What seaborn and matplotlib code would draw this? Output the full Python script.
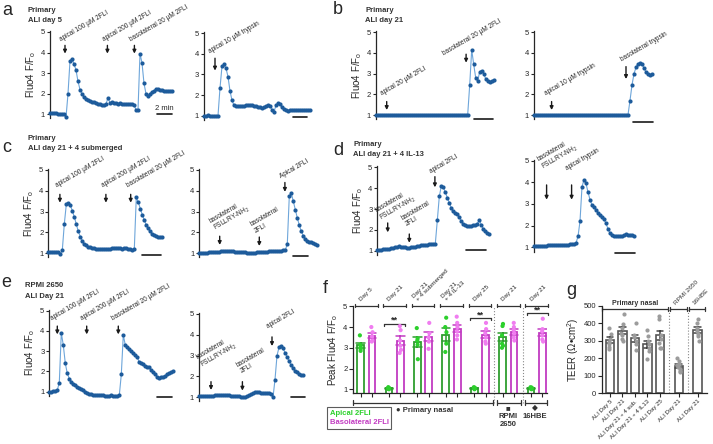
import numpy as np
import pandas as pd
import matplotlib
matplotlib.use('Agg')
import matplotlib.pyplot as plt
from matplotlib.lines import Line2D
import seaborn as sns

W, H = 713, 444

# ---- calcium traces (Fluo4 F/Fo), one reading per sample ----
A_LEFT = [1.05, 1.05, 1.07, 1.05, 1.03, 1.03, 1.02, 1.0, 0.85, 2.0,
          3.6, 3.7, 3.45, 3.15, 2.6, 2.2, 2.0, 1.85, 1.75, 1.7,
          1.65, 1.62, 1.6, 1.55, 1.52, 1.5, 1.47, 1.45, 1.5, 1.8,
          1.55, 1.58, 1.55, 1.55, 1.52, 1.55, 1.52, 1.5, 1.5, 1.5,
          1.5, 1.5, 1.45, 1.22, 1.2, 3.95, 3.5, 2.5, 2.0, 1.9,
          2.0, 2.1, 2.15, 2.25, 2.25, 2.2, 2.2, 2.15, 2.15, 2.12,
          2.15, 2.15]
A_RIGHT = [1.0, 1.0, 1.01, 1.0, 1.0, 0.99, 1.0, 1.0, 2.35, 3.4,
           3.5, 3.3, 2.9, 2.2, 1.75, 1.5, 1.45, 1.45, 1.45, 1.45,
           1.48, 1.5, 1.5, 1.5, 1.5, 1.48, 1.45, 1.42, 1.4, 1.38,
           1.4, 1.45, 1.5, 1.45, 1.3, 1.2, 1.5, 1.6, 1.55, 1.42,
           1.32, 1.28, 1.25, 1.28, 1.3, 1.28, 1.3, 1.28, 1.27, 1.28,
           1.27, 1.28, 1.27, 1.27]
B_LEFT = [1.0, 1.0, 1.01, 1.0, 1.0, 1.01, 1.0, 1.01, 1.02, 1.01,
          1.0, 1.01, 1.01, 1.0, 1.01, 1.01, 1.0, 1.0, 1.01, 1.01,
          1.0, 1.0, 1.01, 1.0, 1.01, 1.01, 1.0, 1.0, 1.01, 1.0,
          1.0, 1.01, 1.0, 1.01, 1.0, 1.0, 1.01, 1.0, 1.0, 1.01,
          1.0, 1.01, 1.0, 1.01, 1.02, 1.02, 1.02, 2.45, 4.15, 3.45,
          2.8, 2.65, 3.1, 3.15, 3.0, 2.75, 2.65, 2.62, 2.65, 2.7]
B_RIGHT = [1.0, 1.0, 1.0, 1.01, 1.0, 1.0, 1.01, 1.0, 1.0, 1.0,
           1.01, 1.0, 1.0, 1.0, 1.01, 1.0, 1.0, 1.0, 1.01, 1.0,
           1.0, 1.0, 1.01, 1.0, 1.0, 1.0, 1.0, 1.01, 1.0, 1.0,
           1.0, 1.01, 1.0, 1.0, 1.0, 1.0, 1.01, 1.0, 1.0, 1.0,
           1.0, 1.01, 1.0, 1.0, 1.0, 1.0, 1.0, 1.01, 1.7, 2.45,
           3.0, 3.3, 3.48, 3.52, 3.45, 3.28, 3.08, 2.98, 2.95, 3.0]
C_LEFT = [1.05, 1.05, 1.05, 1.07, 1.08, 1.05, 0.95, 1.15, 2.4, 3.35,
          3.4, 3.3, 3.05, 2.75, 2.4, 2.05, 1.8, 1.6, 1.45, 1.38,
          1.32, 1.28, 1.26, 1.25, 1.23, 1.22, 1.2, 1.2, 1.2, 1.21,
          1.22, 1.23, 1.24, 1.25, 1.26, 1.25, 1.24, 1.23, 1.25, 1.24,
          1.22, 1.2, 1.18, 1.2, 3.7, 3.45, 3.15, 2.85, 2.6, 2.35,
          2.2, 2.05, 1.95, 1.88, 1.82, 1.8, 1.77, 1.76]
C_RIGHT = [1.0, 1.0, 1.01, 1.02, 1.03, 1.04, 1.05, 1.06, 1.07, 1.08,
           1.08, 1.09, 1.1, 1.12, 1.12, 1.11, 1.1, 1.09, 1.08, 1.07,
           1.06, 1.05, 1.04, 1.04, 1.03, 1.03, 1.02, 1.03, 1.03, 1.04,
           1.04, 1.05, 1.06, 1.07, 1.08, 1.09, 1.1, 1.1, 1.11, 1.12,
           1.12, 1.13, 1.14, 1.15, 1.45, 3.75, 3.88, 3.5, 3.1, 2.7,
           2.35, 2.05, 1.85, 1.7, 1.6, 1.55, 1.52, 1.48, 1.45, 1.42]
D_LEFT = [1.05, 1.05, 1.05, 1.06, 1.07, 1.08, 1.1, 1.12, 1.14, 1.17,
          1.2, 1.22, 1.2, 1.18, 1.16, 1.15, 1.15, 1.16, 1.18, 1.2,
          1.22, 1.24, 1.26, 1.27, 1.28, 1.29, 1.3, 1.31, 1.32, 1.33,
          2.45, 3.6, 4.1, 4.05, 3.8, 3.55, 3.3, 3.05, 2.9, 2.8,
          2.75, 2.6, 2.42, 2.28, 2.22, 2.2, 2.2, 2.2, 2.22, 2.25,
          2.3, 2.45, 2.25, 2.05, 1.95, 1.85, 1.8]
D_RIGHT = [1.05, 1.06, 1.07, 1.08, 1.08, 1.08, 1.08, 1.09, 1.1, 1.1,
           1.1, 1.11, 1.12, 1.12, 1.12, 1.12, 1.12, 1.12, 1.13, 1.14,
           1.15, 1.2, 1.5, 2.2, 3.8, 4.12, 3.95, 3.55, 3.2, 2.95,
           2.85, 2.72, 2.6, 2.5, 2.42, 2.3, 2.1, 1.85, 1.65, 1.55,
           1.5, 1.5, 1.5, 1.52, 1.52, 1.55, 1.6, 1.58, 1.55, 1.55,
           1.53]
E_LEFT = [1.0, 1.0, 1.02, 1.05, 1.08, 1.45, 3.9, 3.3, 2.4, 1.9,
          1.65, 1.5, 1.4, 1.32, 1.25, 1.2, 1.15, 1.1, 1.0, 0.95,
          0.9, 0.88, 0.85, 0.85, 0.82, 0.85, 0.82, 0.83, 0.8, 0.78,
          0.8, 0.82, 0.78, 0.8, 0.8, 0.82, 1.85, 3.8, 3.3, 3.2,
          3.1, 3.0, 2.9, 2.8, 2.7, 2.45, 2.4, 2.38, 2.25, 2.2,
          2.2, 2.05, 1.95, 1.85, 1.75, 1.7, 1.72, 1.75, 1.8, 1.85,
          1.9, 1.95, 2.02]
E_RIGHT = [1.05, 1.05, 1.06, 1.07, 1.07, 1.08, 1.08, 1.08, 1.09, 1.09,
           1.1, 1.1, 1.1, 1.1, 1.1, 1.09, 1.08, 1.08, 1.07, 1.06,
           1.05, 1.03, 1.02, 1.03, 1.06, 1.1, 1.15, 1.2, 1.24, 1.25,
           1.24, 1.22, 1.21, 1.2, 1.2, 1.2, 1.18, 1.0, 1.85, 3.0,
           3.4, 3.45, 3.35, 3.15, 2.95, 2.75, 2.55, 2.4, 2.28, 2.2,
           2.12, 2.08, 2.05]

# arrows: (sample, tip, top, label, text offset in points)
NH2 = 'FSLLRY-NH$_2$'
A_LEFT_ARROWS = [(7.5, 3.95, 4.35, 'apical 100 µM 2FLI', (-2, 1.5)),
                 (28.7, 3.95, 4.35, 'apical 200 µM 2FLI', (-2, 1.5)),
                 (42.2, 3.95, 4.35, 'basolateral 20 µM 2FLI', (-2, 1.5))]
A_RIGHT_ARROWS = [(5.5, 3.19, 3.79, 'apical 10 µM trypsin', (-3, 2.4))]
B_LEFT_ARROWS = [(5.5, 1.24, 1.65, 'apical 20 µM 2FLI', (-2.4, 3.5)),
                 (45.2, 3.53, 3.94, 'basolateral 20 µM 2FLI', (-15, -2))]
B_RIGHT_ARROWS = [(8.8, 1.24, 1.65, 'apical 10 µM trypsin', (-3, 3.5)),
                  (46, 2.74, 3.34, 'basolateral trypsin', (-2.4, 2.4))]
C_LEFT_ARROWS = [(5.8, 3.43, 3.83, 'apical 100 µM 2FLI', (-1.5, 4)),
                 (28.8, 3.43, 3.83, 'apical 200 µM 2FLI', (-1.5, 4)),
                 (41.2, 3.43, 3.83, 'basolateral 20 µM 2FLI', (-1.5, 4))]
C_RIGHT_ARROWS = [(10.2, 1.4, 1.82, 'basolateral\n' + NH2, (-2, 2)),
                  (30, 1.35, 1.78, 'basolateral\n2FLI', (-2, 2)),
                  (42.8, 3.95, 4.4, 'Apical 2FLI', (-2, 2))]
D_LEFT_ARROWS = [(5.2, 1.88, 2.33, 'basolateral\n' + NH2, (-3.6, 0)),
                 (16, 1.38, 1.8, 'basolateral\n2FLI', (-1.2, 4.8)),
                 (28.8, 4.04, 4.55, 'apical 2FLI', (-2, 1.2))]
D_RIGHT_ARROWS = [(6.3, 3.2, 3.88, 'basolateral\n' + NH2, (-1, 9.5)),
                  (18.8, 3.2, 3.88, 'apical trypsin', (-2.6, 9.5))]
E_LEFT_ARROWS = [(4, 3.83, 4.24, 'apical 100 µM 2FLI', (-3, 3)),
                 (18.7, 3.83, 4.24, 'apical 200 µM 2FLI', (-3, 3)),
                 (34.5, 3.83, 4.24, 'basolateral 20 µM 2FLI', (-3, 3))]
E_RIGHT_ARROWS = [(6, 1.35, 1.75, 'basolateral\n' + NH2, (-5, 8.4)),
                  (21.7, 1.32, 1.75, 'basolateral\n2FLI', (0, 5)),
                  (36.5, 3.46, 3.9, 'apical 2FLI', (-2, 5))]

# ---- panel f: peak Fluo4 F/Fo per culture ----
F_KEYS = ['d5', 'd21', 'd21sub', 'd21il13', 'd25', 'rpmi', 'hbe']
F_LABELS = ['Day 5', 'Day 21', 'Day 21\n+ 4 submerged', 'Day 21\n+ 4 IL-13',
            'Day 25', 'Day 21', 'Day 21']
SIDES = ['Apical 2FLI', 'Basolateral 2FLI']
F_APICAL = [[3.6, 3.15, 3.05, 2.95, 2.85],
            [1.1, 1.06, 1.04, 1.0, 1.02, 1.08],
            [3.95, 3.45, 3.35, 3.15, 2.45],
            [4.45, 4.0, 3.75, 3.2, 2.8],
            [1.0, 1.05, 1.08, 1.02, 1.05, 1.1],
            [4.15, 4.05, 3.6, 3.2, 3.1, 3.0],
            [1.0, 1.05, 1.1, 1.02, 1.08]]
F_BASO = [[4.0, 3.75, 3.55, 3.35, 3.3],
          [4.05, 3.85, 3.35, 3.1, 2.9, 2.75],
          [4.2, 3.7, 3.5, 3.3, 2.95],
          [4.5, 4.2, 4.0, 3.8, 3.6, 3.4],
          [4.2, 3.9, 3.7, 3.5, 3.3, 3.2],
          [4.2, 4.0, 3.85, 3.7, 3.5, 3.35],
          [4.4, 3.9, 3.8, 3.6, 3.4, 3.3]]
F_SIG = {'d21': 4.15, 'd25': 4.42, 'hbe': 4.66}

# ---- panel g: TEER ----
G_KEYS = ['ALI Day 5', 'ALI Day 21', 'ALI Day 21 + 4 sub.', 'ALI Day 21 + 4 IL13',
          'ALI Day 25', 'ALI Day 21 ', 'ALI Day 21  ']
G_TEER = [[375, 340, 310, 295, 280, 265, 255],
          [450, 395, 370, 345, 330, 310, 300],
          [400, 330, 320, 300, 280, 250],
          [360, 325, 300, 280, 260, 240, 195],
          [440, 425, 330, 310, 285, 260, 260],
          [200, 185, 170, 160, 150, 140, 130, 120],
          [425, 400, 375, 355, 340, 325, 300]]
G_POS = [0, 1, 2, 3, 4, 5.5, 7]

DOT_C = '#1d5b9b'
LINE_C = '#6ea6da'
GREEN, GREEN_PT = '#2f9e2f', '#2cd02c'
MAGENTA, MAGENTA_PT = '#c23cc2', '#f07df0'

sns.set_theme(style='ticks')
plt.rcParams['font.family'] = ['Liberation Sans', 'DejaVu Sans']
plt.rcParams['mathtext.fontset'] = 'custom'
plt.rcParams['mathtext.rm'] = 'Liberation Sans'
plt.rcParams['mathtext.it'] = 'Liberation Sans:italic'
plt.rcParams['mathtext.bf'] = 'Liberation Sans:bold'
plt.rcParams['mathtext.default'] = 'rm'
plt.rcParams['axes.linewidth'] = 0.9

fig = plt.figure(figsize=(W / 100, H / 100), dpi=100)


def px_axes(left, top, right, bottom):
    return fig.add_axes([left / W, 1 - bottom / H, (right - left) / W, (bottom - top) / H])


def draw_trace(vals, left, y5, y1, bar, arrows, ylabel=False, bar_text=False):
    n = len(vals)
    dt = 2.0 / bar[1]          # scale bar = 2 min
    ppu = (y1 - y5) / 4
    ax = px_axes(left, y5 - 0.05 * ppu, left + 2 * (n - 1), y1 + 0.2 * ppu)
    df = pd.DataFrame({'t': np.arange(n) * dt, 'f': vals})
    sns.lineplot(data=df, x='t', y='f', ax=ax, color=LINE_C, linewidth=0.8,
                 errorbar=None, clip_on=False)
    sns.scatterplot(data=df, x='t', y='f', ax=ax, color=DOT_C, s=9, linewidth=0,
                    clip_on=False, zorder=3)
    ax.set_xlim(0, (n - 1) * dt)
    ax.set_ylim(0.8, 5.05)
    ax.set_yticks([1, 2, 3, 4, 5])
    ax.set_xticks([])
    ax.tick_params(axis='y', length=2.5, width=0.8, pad=1, labelsize=5.5)
    for s in ['top', 'right', 'bottom']:
        ax.spines[s].set_visible(False)
    ax.set_xlabel('')
    ax.set_ylabel('Fluo4 F/F$_{o}$' if ylabel else '', fontsize=7, labelpad=2)
    for idx, tip, top, label, off in arrows:
        x = idx * dt
        ax.annotate('', xy=(x, tip), xytext=(x, top),
                    arrowprops=dict(arrowstyle='-|>', color='k', lw=1.0,
                                    mutation_scale=5, shrinkA=0, shrinkB=0))
        ax.annotate(label, xy=(x, top), xytext=off, textcoords='offset points',
                    rotation=30, rotation_mode='anchor', ha='left', va='bottom',
                    fontsize=4.7, linespacing=1.0, annotation_clip=False)
    x0 = bar[0] * dt
    ax.plot([x0, x0 + 2], [bar[2], bar[2]], color='k', lw=1.2, clip_on=False)
    if bar_text:
        ax.text(x0 + 1, bar[2] + 0.12, '2 min', ha='center', va='bottom', fontsize=5.5)
    return ax


draw_trace(A_LEFT, 50, 32, 114.3, (53.3, 7.5, 1.0), A_LEFT_ARROWS, ylabel=True, bar_text=True)
draw_trace(A_RIGHT, 204, 33.3, 115.7, (44.3, 7, 0.92), A_RIGHT_ARROWS)
draw_trace(B_LEFT, 375.7, 32.3, 115, (49.2, 9.3, 0.79), B_LEFT_ARROWS, ylabel=True)
draw_trace(B_RIGHT, 534, 32.3, 115, (49.7, 9.7, 0.68), B_RIGHT_ARROWS)
draw_trace(C_LEFT, 48.3, 170, 253.3, (46.7, 9.7, 0.92), C_LEFT_ARROWS, ylabel=True)
draw_trace(C_RIGHT, 199.3, 170, 253.3, (46.7, 7.8, 0.87), C_RIGHT_ARROWS)
draw_trace(D_LEFT, 377.3, 167.3, 250.7, (44.3, 9.8, 1.03), D_LEFT_ARROWS, ylabel=True)
draw_trace(D_RIGHT, 534, 160.7, 247.3, (40.5, 10, 0.75), D_RIGHT_ARROWS)
draw_trace(E_LEFT, 49.3, 310.7, 391.7, (53.7, 7.8, 0.72), E_LEFT_ARROWS, ylabel=True)
draw_trace(E_RIGHT, 199, 314, 397.3, (45.8, 7, 1.0), E_RIGHT_ARROWS)

# ---- panel f ----
rows = []
for key, ap, bl in zip(F_KEYS, F_APICAL, F_BASO):
    rows += [(key, SIDES[0], v) for v in ap]
    rows += [(key, SIDES[1], v) for v in bl]
df_f = pd.DataFrame(rows, columns=['group', 'side', 'peak'])

axf = px_axes(353, 306.3, 547, 392.6)
sns.barplot(data=df_f, x='group', y='peak', hue='side', order=F_KEYS, hue_order=SIDES,
            palette=[GREEN, MAGENTA], fill=False, errorbar='se', capsize=0.6,
            width=0.8, gap=0.41, linewidth=1.3, err_kws={'linewidth': 1.1},
            legend=False, ax=axf)
sns.stripplot(data=df_f, x='group', y='peak', hue='side', order=F_KEYS, hue_order=SIDES,
              palette=[GREEN_PT, MAGENTA_PT], dodge=True, jitter=0.05, size=3,
              linewidth=0, legend=False, ax=axf, zorder=3)
axf.set_xlim(-0.465, 6.36)
axf.set_ylim(0.84, 5.0)
axf.set_yticks([1, 2, 3, 4, 5])
axf.set_xticks([g + s for g in range(len(F_KEYS)) for s in (-0.2, 0.2)])
axf.set_xticklabels([])
axf.tick_params(axis='both', length=3, width=0.8, pad=1, labelsize=5.5)
sns.despine(ax=axf)
axf.set_xlabel('')
axf.set_ylabel('Peak Fluo4 F/F$_{o}$', fontsize=7, labelpad=2)

kw = dict(color='#333333', lw=0.9, clip_on=False)
for g, lab in enumerate(F_LABELS):
    axf.plot([g - 0.4, g + 0.4], [5.03, 5.03], **kw)
    for xe in (g - 0.4, g + 0.4):
        axf.plot([xe, xe], [4.95, 5.11], **kw)
    axf.text(g - 0.15, 5.2, lab, rotation=45, rotation_mode='anchor', ha='left',
             va='bottom', fontsize=4.6, linespacing=1.0, clip_on=False)
for key, ys in F_SIG.items():
    g = F_KEYS.index(key)
    axf.plot([g - 0.36, g + 0.38], [ys, ys], **kw)
    for xe in (g - 0.36, g + 0.38):
        axf.plot([xe, xe], [ys - 0.1, ys], **kw)
    axf.text(g + 0.01, ys - 0.04, '**', ha='center', va='bottom', fontsize=6.5,
             fontweight='bold')
for xs in (4.5, 5.5):
    axf.plot([xs, xs], [0.35, 5.03], color='#888888', lw=0.8, ls=':', clip_on=False)
yb = 0.354
for x_a, x_b in [(-0.465, 4.45), (4.6, 5.45), (5.6, 6.36)]:
    axf.plot([x_a, x_b], [yb, yb], **kw)
    for xe in (x_a, x_b):
        axf.plot([xe, xe], [yb - 0.13, yb + 0.13], **kw)
axf.text(2.07, 0.0, '● Primary nasal', ha='center', va='center', fontsize=5.5,
         fontweight='bold', color='#333333')
axf.text(5.0, 0.25, '■\nRPMI\n2650', ha='center', va='top', fontsize=5.5,
         fontweight='bold', color='#333333', linespacing=1.2)
axf.text(5.95, 0.25, '◆\n16HBE', ha='center', va='top', fontsize=5.5,
         fontweight='bold', color='#333333', linespacing=1.2)

handles = [Line2D([], [], linestyle='none') for _ in SIDES]
leg = fig.legend(handles, SIDES, loc='upper left', bbox_to_anchor=(327 / W, 1 - 407 / H),
                 handlelength=0, handletextpad=0, borderpad=0.35, labelspacing=0.25,
                 fontsize=5.5, frameon=True, fancybox=False, borderaxespad=0)
leg.get_frame().set_edgecolor('#333333')
leg.get_frame().set_linewidth(0.8)
for txt, c in zip(leg.get_texts(), [GREEN_PT, MAGENTA]):
    txt.set_color(c)
    txt.set_fontweight('bold')

# ---- panel g ----
rows = []
for key, pos, vals in zip(G_KEYS, G_POS, G_TEER):
    rows += [(key, pos, v) for v in vals]
df_g = pd.DataFrame(rows, columns=['culture', 'pos', 'teer'])

axg = px_axes(601.7, 305.7, 706.9, 393.3)
sns.barplot(data=df_g, x='pos', y='teer', native_scale=True, fill=False, color='#555555',
            errorbar='se', capsize=0.55, width=0.67, linewidth=1.2,
            err_kws={'linewidth': 1.1, 'color': '#444444'}, ax=axg)
sns.stripplot(data=df_g, x='pos', y='teer', native_scale=True, color='#9c9c9c', size=3,
              jitter=0.12, linewidth=0, ax=axg, zorder=3)
axg.set_xlim(-0.66, 7.75)
axg.set_ylim(0, 500)
axg.set_yticks([0, 100, 200, 300, 400, 500])
axg.set_xticks(G_POS)
axg.set_xticklabels([k.strip() for k in G_KEYS], rotation=45, ha='right',
                    rotation_mode='anchor', fontsize=4.3)
axg.tick_params(axis='y', length=3, width=0.8, pad=1, labelsize=5.5)
axg.tick_params(axis='x', length=3, width=0.8, pad=1)
sns.despine(ax=axg)
axg.set_xlabel('')
axg.set_ylabel('TEER (Ω•cm$^{2}$)', fontsize=7, labelpad=2)

yt = 479
for x_a, x_b in [(-0.66, 4.66), (4.82, 6.18), (6.34, 7.6)]:
    axg.plot([x_a, x_b], [yt, yt], **kw)
    for xe in (x_a, x_b):
        axg.plot([xe, xe], [yt - 12, yt + 12], **kw)
for xs in (4.74, 6.26):
    axg.plot([xs, xs], [0, yt], color='#888888', lw=0.8, ls=':', clip_on=False)
axg.text(2.0, 490, 'Primary nasal', ha='center', va='bottom', fontsize=5,
         fontweight='bold', color='#333333')
axg.text(5.3, 500, 'RPMI 2650', rotation=45, rotation_mode='anchor', ha='left',
         va='bottom', fontsize=4.6, color='#333333')
axg.text(6.8, 500, '16HBE', rotation=45, rotation_mode='anchor', ha='left',
         va='bottom', fontsize=4.6, color='#333333')

# ---- panel letters and titles ----
for letter, x, y in [('a', 2, 15), ('b', 333, 14), ('c', 2, 152), ('d', 333, 155),
                     ('e', 1, 287), ('f', 323, 293), ('g', 566, 295)]:
    fig.text(x / W, 1 - y / H, letter, fontsize=13, va='baseline', ha='left')
for txt, x, y in [('Primary', 28, 12), ('ALI day 5', 28, 22),
                  ('Primary', 365, 12), ('ALI day 21', 365, 22),
                  ('Primary', 28, 140), ('ALI day 21 + 4 submerged', 28, 150),
                  ('Primary', 353, 146), ('ALI day 21 + 4 IL-13', 353, 156),
                  ('RPMI 2650', 25, 287), ('ALI Day 21', 25, 298)]:
    fig.text(x / W, 1 - y / H, txt, fontsize=5.5, fontweight='bold', va='baseline',
             ha='left', color='#333333')

fig.savefig('out.png', dpi=100)
